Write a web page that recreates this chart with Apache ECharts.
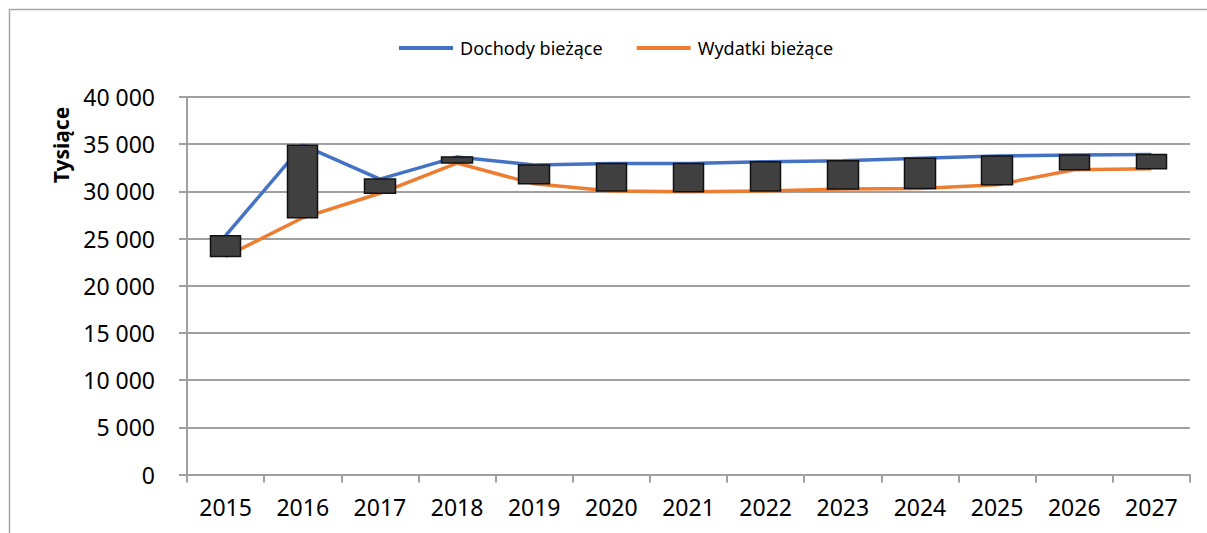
<!DOCTYPE html>
<html>
<head>
<meta charset="utf-8">
<title>Dochody i wydatki bieżące</title>
<script src="https://cdn.jsdelivr.net/npm/echarts@6/dist/echarts.min.js"></script>
<style>
  html, body { margin: 0; padding: 0; background: #fff; }
  #chart { width: 1207px; height: 533px; }
</style>
</head>
<body>
<div id="chart"></div>
<script>
// lata
const years = ["2015", "2016", "2017", "2018", "2019", "2020", "2021", "2022", "2023", "2024", "2025", "2026", "2027"];
// Dochody bieżące (tys.)
const dochody = [25300, 34900, 31300, 33650, 32800, 32950, 32950, 33150, 33250, 33500, 33750, 33850, 33900];
// Wydatki bieżące (tys.)
const wydatki = [23100, 27200, 29800, 33000, 30800, 30050, 29950, 30050, 30250, 30300, 30700, 32300, 32400];
// oś Y
const yMin = 0;
const yMax = 40000;
const yStep = 5000;

const fontFamily = "'Noto Sans', 'Open Sans', sans-serif";

// słupki wzrostów/spadków jak w Excelu: [open, close, low, high]
const upDown = years.map((y, i) => [
  wydatki[i],
  dochody[i],
  Math.min(wydatki[i], dochody[i]),
  Math.max(wydatki[i], dochody[i]),
]);

const fmt = (v) => String(v).replace(/\B(?=(\d{3})+(?!\d))/g, " ");

const chart = echarts.init(document.getElementById("chart"), null, { renderer: "svg" });

chart.setOption({
  animation: false,
  textStyle: { fontFamily: fontFamily },
  graphic: [
    {
      // ramka wykresu
      type: "rect",
      shape: { x: 9.5, y: 9.5, width: 1400, height: 700 },
      style: { fill: "none", stroke: "#a6a6a6", lineWidth: 1.5 },
      silent: true,
    },
    {
      type: "text",
      x: 61,
      y: 145,
      rotation: Math.PI / 2,
      style: {
        text: "Tysiące",
        fontFamily: fontFamily,
        fontSize: 21,
        fontWeight: "bold",
        fill: "#000",
        align: "center",
        verticalAlign: "middle",
      },
    },
  ],
  legend: {
    data: ["Dochody bieżące", "Wydatki bieżące"],
    left: 394,
    top: 34,
    icon: "rect",
    itemWidth: 54,
    itemHeight: 4,
    itemGap: 34,
    textStyle: { fontSize: 18, color: "#000", padding: [0, 0, 0, 2] },
  },
  grid: {
    left: 187,
    right: 17,
    top: 97,
    bottom: 58.5,
  },
  xAxis: {
    type: "category",
    data: years,
    boundaryGap: true,
    axisLine: { lineStyle: { color: "#a0a0a0", width: 2 } },
    axisTick: { show: true, length: 8, lineStyle: { color: "#a0a0a0", width: 2 } },
    axisLabel: { color: "#000", fontSize: 23, margin: 21 },
  },
  yAxis: {
    type: "value",
    min: yMin,
    max: yMax,
    interval: yStep,
    axisLine: { show: true, lineStyle: { color: "#a0a0a0", width: 2 } },
    axisTick: { show: true, length: 8, lineStyle: { color: "#a0a0a0", width: 2 } },
    axisLabel: { color: "#000", fontSize: 23, margin: 32, formatter: fmt },
    splitLine: { show: true, lineStyle: { color: "#a0a0a0", width: 2 } },
  },
  series: [
    {
      name: "Dochody bieżące",
      type: "line",
      data: dochody,
      symbol: "none",
      z: 2,
      lineStyle: { color: "#4472c4", width: 3.5 },
      itemStyle: { color: "#4472c4" },
    },
    {
      name: "Wydatki bieżące",
      type: "line",
      data: wydatki,
      symbol: "none",
      z: 2,
      lineStyle: { color: "#ed7d31", width: 3.5 },
      itemStyle: { color: "#ed7d31" },
    },
    {
      name: "Różnica",
      type: "candlestick",
      data: upDown,
      barWidth: 31,
      z: 5,
      itemStyle: {
        color: "#404040",
        color0: "#404040",
        borderColor: "#111111",
        borderColor0: "#111111",
        borderWidth: 1.5,
      },
    },
  ],
});
</script>
</body>
</html>
